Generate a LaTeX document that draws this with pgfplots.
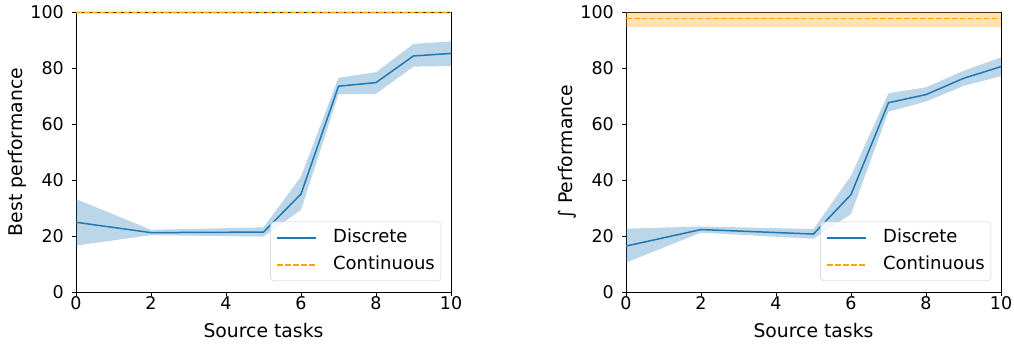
\documentclass[border=0pt]{standalone}
\usepackage{fontspec}
\setmainfont{DejaVu Sans}
\usepackage{pgfplots}
\usepackage{pgfplotstable}
\pgfplotsset{compat=1.18}
\usepgfplotslibrary{fillbetween}

\definecolor{tabblue}{HTML}{1F77B4}
\definecolor{taborange}{HTML}{FFA500}

\pgfplotstableread{
x mean lo hi
0 24.9 16.6 33.2
2 21.2 20.3 22.2
5 21.4 19.8 23.1
6 35.0 29.3 41.2
7 73.5 70.6 76.5
8 74.8 70.8 78.5
9 84.3 80.5 88.6
10 85.2 80.7 89.5
}\leftdisc

\pgfplotstableread{
x mean lo hi
0 99.8 99.2 100.3
10 99.8 99.2 100.3
}\leftcont

\pgfplotstableread{
x mean lo hi
0 16.4 10.5 22.6
2 22.3 21.2 23.4
5 20.7 19.0 22.5
6 34.8 27.8 41.5
7 67.6 64.4 71.0
8 70.5 68.0 73.1
9 76.3 73.6 79.0
10 80.5 77.1 83.8
}\rightdisc

\pgfplotstableread{
x mean lo hi
0 97.6 94.6 100.0
10 97.6 94.6 100.0
}\rightcont

\pgfplotsset{
  myaxis/.style={
    width=375pt, height=280pt, scale only axis,
    xmin=0, xmax=10, ymin=0, ymax=100,
    xtick={0,2,4,6,8,10}, ytick={0,20,40,60,80,100},
    xtick pos=left, ytick pos=left,
    tick align=outside, major tick length=4pt,
    every tick/.style={black, line width=0.8pt},
    axis line style={black, line width=0.8pt},
    /pgf/number format/assume math mode=true,
    ticklabel style={font=\fontsize{17.5}{20}\selectfont},
    xticklabel style={anchor=base, inner sep=0pt, yshift=-13pt},
    yticklabel style={anchor=east, inner sep=0pt, xshift=-8pt},
    label style={font=\fontsize{18.8}{22}\selectfont},
    xlabel style={at={(axis description cs:0.5,0)}, anchor=base, yshift=-45pt, inner sep=0pt},
    ylabel style={at={(axis description cs:-0.156,0.5)}, anchor=center, inner sep=0pt},
    xlabel={Source tasks},
    legend style={at={(axis description cs:1,0)}, anchor=south east,
      xshift=-10pt, yshift=11pt,
      draw=black!20, rounded corners=3pt, fill=white, fill opacity=0.8, text opacity=1,
      font=\fontsize{18}{21}\selectfont,
      inner xsep=6pt, inner ysep=7.5pt, row sep=10pt, column sep=0pt,
      nodes={inner sep=0pt, text height=13pt, text depth=4pt}},
    legend cell align=left,
    legend image code/.code={\draw[##1] (0pt,0pt) -- (39pt,0pt); \path (55pt,0pt);},
  },
  discline/.style={tabblue, line width=1.5pt},
  contline/.style={taborange, line width=1.5pt, dash pattern=on 5.55pt off 2.4pt},
}

\begin{document}
\begin{tikzpicture}
\begin{axis}[myaxis, at={(76pt,51pt)}, anchor=south west, ylabel={Best performance}]
\addplot[name path=dhi, draw=none, forget plot] table[x=x,y=hi]{\leftdisc};
\addplot[name path=dlo, draw=none, forget plot] table[x=x,y=lo]{\leftdisc};
\addplot[tabblue, fill opacity=0.3, draw=none, forget plot] fill between[of=dhi and dlo];
\addplot[name path=chi, draw=none, forget plot] table[x=x,y=hi]{\leftcont};
\addplot[name path=clo, draw=none, forget plot] table[x=x,y=lo]{\leftcont};
\addplot[taborange, fill opacity=0.3, draw=none, forget plot] fill between[of=chi and clo];
\addplot[discline] table[x=x,y=mean]{\leftdisc};
\addlegendentry{Discrete}
\addplot[contline] table[x=x,y=mean]{\leftcont};
\addlegendentry{Continuous}
\end{axis}
\begin{axis}[myaxis, at={(626pt,51pt)}, anchor=south west, ylabel={∫ Performance}]
\addplot[name path=dhi, draw=none, forget plot] table[x=x,y=hi]{\rightdisc};
\addplot[name path=dlo, draw=none, forget plot] table[x=x,y=lo]{\rightdisc};
\addplot[tabblue, fill opacity=0.3, draw=none, forget plot] fill between[of=dhi and dlo];
\addplot[name path=chi, draw=none, forget plot] table[x=x,y=hi]{\rightcont};
\addplot[name path=clo, draw=none, forget plot] table[x=x,y=lo]{\rightcont};
\addplot[taborange, fill opacity=0.3, draw=none, forget plot] fill between[of=chi and clo];
\addplot[discline] table[x=x,y=mean]{\rightdisc};
\addlegendentry{Discrete}
\addplot[contline] table[x=x,y=mean]{\rightcont};
\addlegendentry{Continuous}
\end{axis}
\pgfresetboundingbox
\path[use as bounding box] (0,0) rectangle (1014pt,343pt);
\end{tikzpicture}
\end{document}
